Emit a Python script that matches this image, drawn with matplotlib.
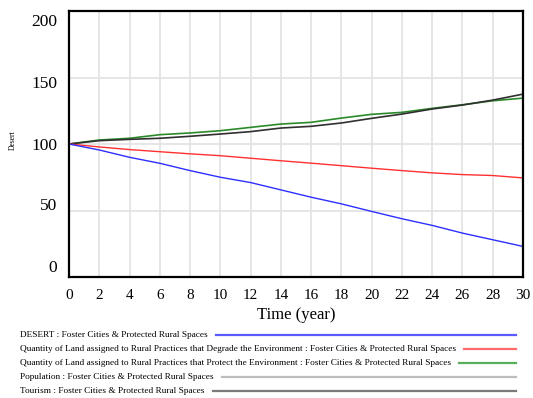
import matplotlib
matplotlib.use("Agg")
import matplotlib.pyplot as plt
from matplotlib.lines import Line2D

plt.rcParams['font.family'] = ['Liberation Serif', 'DejaVu Serif']

# time axis (years)
years = [0, 2, 4, 6, 8, 10, 12, 14, 16, 18, 20, 22, 24, 26, 28, 30]

desert = [100, 95.5, 90, 85.5, 80, 75, 71, 65.5, 60, 55, 49.3, 43.8, 38.8, 33, 28, 23]
degrade = [100, 97.8, 95.8, 94.2, 92.6, 91.2, 89.3, 87.4, 85.6, 83.7, 81.8, 80, 78.3, 77, 76.3, 74.5]
protect = [100, 103, 104.3, 107, 108.3, 110, 112.5, 115, 116.3, 119.5, 122.3, 123.8, 126.8, 129.5, 132.5, 134.5]
population = []  # not visible in the chart range
tourism = [100, 102.5, 103.5, 104.3, 105.8, 107.5, 109.3, 112, 113.3, 115.8, 119.3, 122.5, 126.3, 129.3, 133, 137.5]

legend_labels = [
    "DESERT : Foster Cities & Protected Rural Spaces",
    "Quantity of Land assigned to Rural Practices that Degrade the Environment : Foster Cities & Protected Rural Spaces",
    "Quantity of Land assigned to Rural Practices that Protect the Environment : Foster Cities & Protected Rural Spaces",
    "Population : Foster Cities & Protected Rural Spaces",
    "Tourism : Foster Cities & Protected Rural Spaces",
]
legend_colors = ["#5a5aff", "#ff6a6a", "#5aad5a", "#bdbdbd", "#7a7a7a"]

yticks = [0, 50, 100, 150, 200]
ytick_offsets = [9, 5, -2, -6, -11]  # vensim-like label placement (pixels)

W, H = 533, 398
fig = plt.figure(figsize=(W / 100, H / 100), dpi=100)
ax = fig.add_axes([69 / W, 1 - 277 / H, (523 - 69) / W, (277 - 11) / H])

ax.plot(years, protect, color="#2a8a2a", lw=1.2)
ax.plot(years, tourism, color="#303030", lw=1.2)
ax.plot(years, degrade, color="#ff3030", lw=1.0)
ax.plot(years, desert, color="#2e2eff", lw=1.0)
if population:
    ax.plot(years[:len(population)], population, color="#bdbdbd", lw=1.0)

ax.set_xlim(0, 30)
ax.set_ylim(0, 200)
ax.set_xticks(range(0, 31, 2))
ax.set_yticks(yticks)
ax.set_yticklabels([])
ax.grid(True, color="#e2e2e2", lw=1.2)
ax.set_axisbelow(True)
ax.tick_params(length=0, labelsize=11, pad=8.5)
for s in ax.spines.values():
    s.set_linewidth(1.6)
    s.set_color("black")

for v, dy in zip(yticks, ytick_offsets):
    ax.annotate(str(v), xy=(0, v), xycoords=("axes fraction", "data"),
                xytext=(-12, dy), textcoords="offset pixels",
                ha="right", va="center", fontsize=12.5)

ax.set_xlabel("Time (year)", fontsize=12, labelpad=4)
fig.text(13 / W, 1 - 140 / H, "Desert", rotation=90, fontsize=5.5,
         ha="center", va="center")

# legend at bottom: text followed by line segment
row_y = [335, 349, 363, 377, 391]
fig.canvas.draw()
renderer = fig.canvas.get_renderer()
for lab, col, y in zip(legend_labels, legend_colors, row_y):
    t = fig.text(20 / W, 1 - y / H, lab, fontsize=6.7, ha="left", va="center")
    bb = t.get_window_extent(renderer)
    x0 = (bb.x1 + 8) / W
    fig.add_artist(Line2D([x0, 516 / W], [1 - y / H, 1 - y / H],
                          transform=fig.transFigure, color=col, lw=1.6))

fig.savefig("out.png", dpi=100)
